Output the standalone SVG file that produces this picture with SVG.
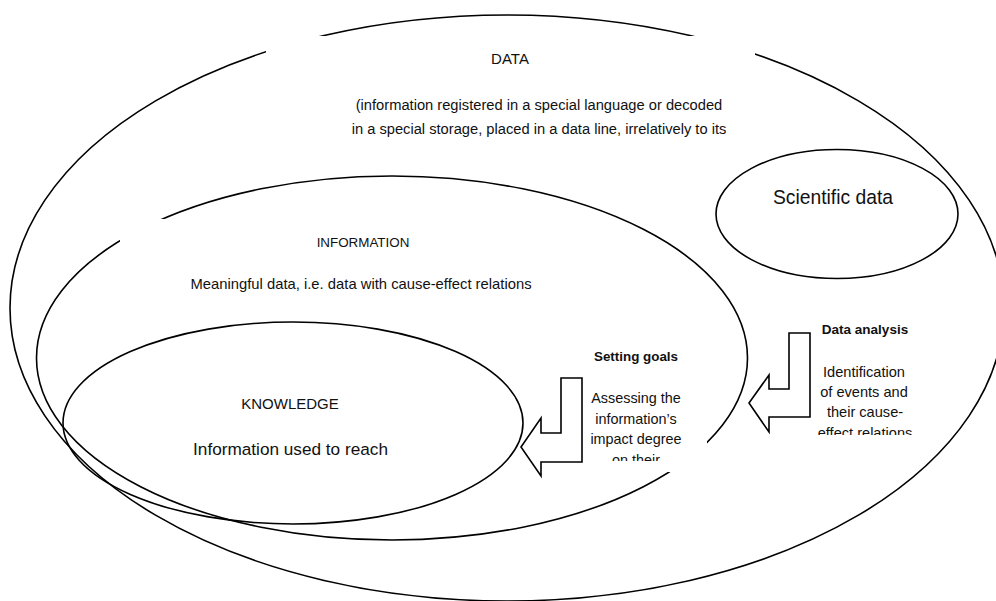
<svg xmlns="http://www.w3.org/2000/svg" width="996" height="601" viewBox="0 0 996 601">
<style>
.e{fill:none;stroke:#000;stroke-width:1.6}
.box{fill:#fff;stroke:none}
.t{font-family:"Liberation Sans",Arial,sans-serif;fill:#111;text-anchor:middle}
.b{font-weight:bold}
.arr{fill:#fff;stroke:#000;stroke-width:1.6;stroke-linejoin:miter}
</style>
<defs>
<clipPath id="clipGoals"><rect x="570" y="335" width="137" height="126"/></clipPath>
<clipPath id="clipAnalysis"><rect x="794" y="305" width="142" height="130"/></clipPath>
</defs>
<g id="data">
<ellipse class="e" cx="507" cy="308" rx="497" ry="293"/>
</g>
<g id="scientific-data">
<ellipse class="e" cx="837" cy="214" rx="121" ry="64.5"/>
<text class="t" x="833" y="204" font-size="19.3">Scientific data</text>
</g>
<g id="information">
<ellipse class="e" cx="392" cy="358" rx="355.5" ry="182"/>
</g>
<g id="knowledge">
<ellipse class="e" cx="293" cy="423" rx="230" ry="101"/>
</g>
<g id="data-label">
<rect class="box" x="266" y="36" width="489" height="110"/>
<text class="t" x="510" y="64" font-size="15">DATA</text>
<text class="t" x="539" y="110" font-size="14.7">(information registered in a special language or decoded</text>
<text class="t" x="539" y="133.5" font-size="14.7">in a special storage, placed in a data line, irrelatively to its</text>
</g>
<g id="information-label">
<rect class="box" x="120" y="219" width="480" height="90"/>
<text class="t" x="363" y="246.7" font-size="13.4">INFORMATION</text>
<text class="t" x="361" y="289" font-size="14.8">Meaningful data, i.e. data with cause-effect relations</text>
</g>
<g id="knowledge-label">
<text class="t" x="290" y="409.3" font-size="15">KNOWLEDGE</text>
<text class="t" x="290.5" y="455" font-size="17.2">Information used to reach</text>
</g>
<g id="setting-goals">
<rect class="box" x="570" y="335" width="137" height="137"/>
<g clip-path="url(#clipGoals)">
<text class="t b" x="636" y="361" font-size="13.4">Setting goals</text>
<text class="t" x="636" y="403.3" font-size="14.4">Assessing the</text>
<text class="t" x="636" y="424" font-size="14.4">information’s</text>
<text class="t" x="636" y="444.3" font-size="14.4">impact degree</text>
<text class="t" x="636" y="464.6" font-size="14.4">on their</text>
</g>
</g>
<g id="data-analysis">
<rect class="box" x="794" y="305" width="142" height="141"/>
<g clip-path="url(#clipAnalysis)">
<text class="t b" x="865" y="334" font-size="13.5">Data analysis</text>
<text class="t" x="864" y="376.7" font-size="14.6">Identification</text>
<text class="t" x="864" y="397" font-size="14.6">of events and</text>
<text class="t" x="865" y="417.3" font-size="14.6">their cause-</text>
<text class="t" x="865" y="437.6" font-size="14.6">effect relations</text>
</g>
</g>
<g id="connectors">
<polygon class="arr" points="561,378 582,378 582,462 541,462 541,476 521,447 541,418 541,433 561,433"/>
<polygon class="arr" points="789,333 810,333 810,417 769,417 769,432 749,403 769,375 769,389 789,389"/>
</g>
</svg>
